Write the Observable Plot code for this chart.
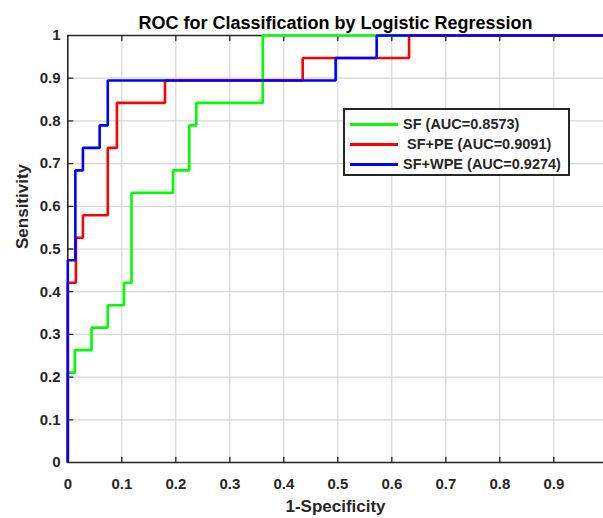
<!DOCTYPE html>
<html>
<head>
<meta charset="utf-8">
<script src="https://cdn.jsdelivr.net/npm/d3@7"></script>
<script src="https://cdn.jsdelivr.net/npm/@observablehq/plot@0.6"></script>
<style>
  html, body { margin: 0; padding: 0; background: #fff; }
  #wrap { position: relative; width: 603px; height: 518px; overflow: hidden; font-family: "Liberation Sans", Arial, sans-serif; }
  #legend { position: absolute; left: 343px; top: 108px; width: 223px; height: 64px; border: 2px solid #262626; background: #fff; box-sizing: content-box; }
  .row { position: absolute; left: 0; height: 20px; display: flex; align-items: center; font-weight: bold; font-size: 14.5px; color: #262626; white-space: pre; }
  .swatch { width: 48px; height: 0; border-top: 3px solid; margin-left: 5px; margin-right: 5px; }
</style>
</head>
<body>
<div id="wrap"><div id="legend"></div></div>
<script>
// Series names and AUC values
const seriesNames = ["SF", "SF+PE", "SF+WPE"];
const seriesAUC = ["0.8573", "0.9091", "0.9274"];
const seriesColors = ["#00ff00", "#ff0000", "#0000ff"];

// ROC staircase vertices (1-Specificity, Sensitivity)
const sfFPR  = [0, 0, 0.013, 0.013, 0.044, 0.044, 0.074, 0.074, 0.104, 0.104, 0.118, 0.118, 0.195, 0.195, 0.225, 0.225, 0.238, 0.238, 0.361, 0.361, 1];
const sfTPR  = [0, 0.2105, 0.2105, 0.2632, 0.2632, 0.3158, 0.3158, 0.3684, 0.3684, 0.4211, 0.4211, 0.6316, 0.6316, 0.6842, 0.6842, 0.7895, 0.7895, 0.8421, 0.8421, 1, 1];

const peFPR  = [0, 0, 0.015, 0.015, 0.028, 0.028, 0.074, 0.074, 0.091, 0.091, 0.18, 0.18, 0.435, 0.435, 0.632, 0.632, 1];
const peTPR  = [0, 0.4211, 0.4211, 0.5263, 0.5263, 0.5789, 0.5789, 0.7368, 0.7368, 0.8421, 0.8421, 0.8947, 0.8947, 0.9474, 0.9474, 1, 1];

const wpeFPR = [0, 0, 0.014, 0.014, 0.028, 0.028, 0.059, 0.059, 0.074, 0.074, 0.496, 0.496, 0.572, 0.572, 1];
const wpeTPR = [0, 0.4737, 0.4737, 0.6842, 0.6842, 0.7368, 0.7368, 0.7895, 0.7895, 0.8947, 0.8947, 0.9474, 0.9474, 1, 1];

// Tick values
const xTicks = [0, 0.1, 0.2, 0.3, 0.4, 0.5, 0.6, 0.7, 0.8, 0.9];
const yTicks = [0, 0.1, 0.2, 0.3, 0.4, 0.5, 0.6, 0.7, 0.8, 0.9, 1];

const titleText = "ROC for Classification by Logistic Regression";
const xLabel = "1-Specificity";
const yLabel = "Sensitivity";

const curves = [[sfFPR, sfTPR], [peFPR, peTPR], [wpeFPR, wpeTPR]];
const rows = curves.flatMap(([fx, ty], s) => fx.map((x, i) => ({series: seriesNames[s], x, y: ty[i]})));

const tickShape = {draw(ctx, l) { ctx.moveTo(0, 0); ctx.lineTo(0, -l); }};
const axisColor = "#262626";

const chart = Plot.plot({
  width: 603,
  height: 518,
  marginLeft: 67,
  marginRight: 0,
  marginTop: 35,
  marginBottom: 56,
  style: {fontFamily: "'Liberation Sans', Arial, sans-serif", fontWeight: "bold", fontSize: "15px", color: axisColor, background: "transparent", overflow: "hidden"},
  x: {domain: [0, 1], range: [67.3, 607.3], ticks: xTicks, tickFormat: d => String(d), tickSize: 0, tickPadding: 16, label: null},
  y: {domain: [0, 1], range: [462, 35], ticks: yTicks, tickFormat: d => String(d), tickSize: 0, tickPadding: 7, label: null},
  color: {domain: seriesNames, range: seriesColors},
  marks: [
    Plot.ruleX(xTicks.filter(d => d > 0), {x: d => d, stroke: "#d6d6d6", strokeWidth: 1.2}),
    Plot.ruleY(yTicks.filter(d => d > 0 && d < 1), {y: d => d, stroke: "#d6d6d6", strokeWidth: 1.2}),
    Plot.ruleY([0, 1], {y: d => d, stroke: axisColor, strokeWidth: 1.6}),
    Plot.ruleX([0], {x: d => d, stroke: axisColor, strokeWidth: 1.6}),
    Plot.vector(xTicks.filter(d => d > 0), {x: d => d, y: 0, length: 5, anchor: "start", shape: tickShape, stroke: axisColor, strokeWidth: 1.3}),
    Plot.vector(xTicks.filter(d => d > 0), {x: d => d, y: 1, length: 5, rotate: 180, anchor: "start", shape: tickShape, stroke: axisColor, strokeWidth: 1.3}),
    Plot.vector(yTicks.filter(d => d > 0 && d < 1), {x: 0, y: d => d, length: 5, rotate: 90, anchor: "start", shape: tickShape, stroke: axisColor, strokeWidth: 1.3}),
    Plot.line(rows, {x: "x", y: "y", z: "series", stroke: "series", strokeWidth: 2.6, strokeLinejoin: "miter", strokeLinecap: "butt"}),
    Plot.text([titleText], {frameAnchor: "top", dy: -19, fontSize: 18, fontWeight: "bold", fill: "#000"}),
    Plot.text([xLabel], {frameAnchor: "bottom", dy: 49, fontSize: 17, fontWeight: "bold", fill: axisColor}),
    Plot.text([yLabel], {frameAnchor: "left", dx: -45, rotate: -90, fontSize: 17, fontWeight: "bold", fill: axisColor})
  ]
});

document.getElementById("wrap").prepend(chart);

// Legend
const legend = document.getElementById("legend");
const rowTops = [4, 24, 44];
seriesNames.forEach((name, i) => {
  const r = document.createElement("div");
  r.className = "row";
  r.style.top = rowTops[i] + "px";
  const sw = document.createElement("div");
  sw.className = "swatch";
  sw.style.borderTopColor = seriesColors[i];
  const t = document.createElement("span");
  t.textContent = (i === 1 ? " " : "") + `${name} (AUC=${seriesAUC[i]})`;
  r.appendChild(sw);
  r.appendChild(t);
  legend.appendChild(r);
});
</script>
</body>
</html>
